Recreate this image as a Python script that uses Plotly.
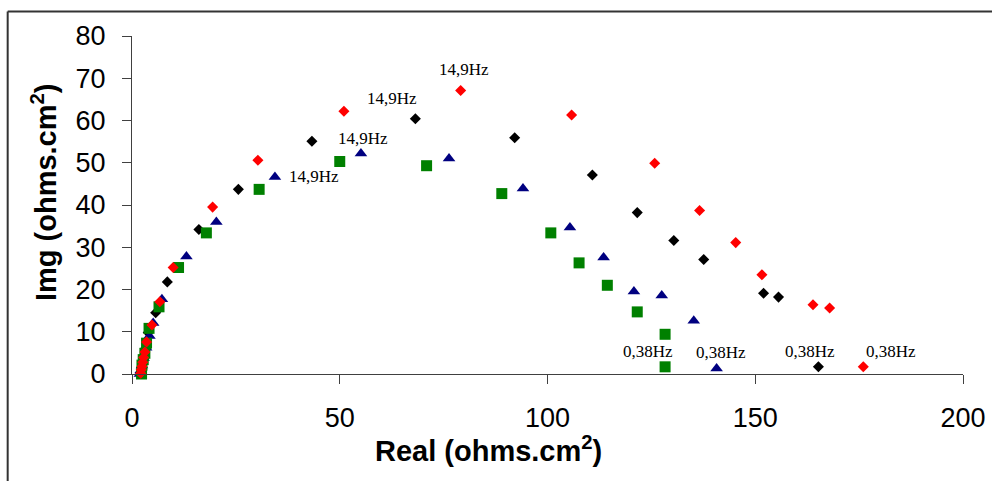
import plotly.graph_objects as go

# Nyquist impedance data (Real vs Img, ohms.cm^2), high to low frequency
black_x = [2.0, 2.3, 2.7, 3.2, 3.9, 5.7, 8.5, 16.1, 25.6, 43.3, 68.2, 92.1, 110.8, 121.6, 130.4, 137.6, 152.0, 155.6, 165.2]
black_y = [0.3, 1.5, 3.2, 6.0, 9.8, 14.5, 21.8, 34.2, 43.7, 55.1, 60.4, 55.9, 47.1, 38.2, 31.6, 27.1, 19.1, 18.2, 1.7]

blue_x = [1.9, 2.1, 2.4, 2.8, 3.4, 4.2, 5.1, 7.2, 13.1, 20.3, 34.4, 55.1, 76.3, 94.1, 105.4, 113.5, 120.8, 127.5, 135.2, 140.7]
blue_y = [0.0, 0.8, 2.0, 3.8, 6.2, 9.0, 12.1, 17.7, 27.8, 36.0, 46.6, 52.2, 51.0, 43.9, 34.7, 27.6, 19.5, 18.6, 12.6, 1.3]

green_x = [2.3, 2.4, 2.7, 3.1, 3.5, 4.1, 6.5, 11.2, 17.9, 30.6, 50.0, 70.9, 89.0, 100.8, 107.6, 114.4, 121.6, 128.3, 128.3]
green_y = [0.0, 2.1, 3.4, 4.9, 7.3, 10.8, 15.9, 25.2, 33.4, 43.7, 50.3, 49.3, 42.7, 33.4, 26.3, 21.0, 14.7, 9.4, 1.7]

red_x = [2.1, 2.2, 2.4, 2.6, 2.8, 3.1, 3.5, 4.8, 6.7, 9.9, 19.4, 30.3, 51.0, 79.1, 105.8, 125.8, 136.6, 145.3, 151.6, 163.9, 167.9, 176.0]
red_y = [0.2, 1.0, 1.8, 2.8, 3.9, 5.2, 7.6, 11.6, 17.1, 25.2, 39.5, 50.6, 62.2, 67.1, 61.3, 49.9, 38.7, 31.1, 23.5, 16.4, 15.6, 1.7]

x_ticks = [0, 50, 100, 150, 200]
y_ticks = [0, 10, 20, 30, 40, 50, 60, 70, 80]

# index of the 14,9 Hz point in each series (last point is 0,38 Hz)
hf_idx = {"black": 10, "blue": 11, "green": 10, "red": 13}

series = [
    ("black", black_x, black_y, "diamond", 8.5, "#000000"),
    ("blue", blue_x, blue_y, "triangle-up", 11, "#000080"),
    ("green", green_x, green_y, "square", 11, "#008000"),
    ("red", red_x, red_y, "diamond", 8.5, "#FF0000"),
]

fig = go.Figure()
for name, xs, ys, sym, size, col in series:
    fig.add_trace(go.Scatter(
        x=xs, y=ys, mode="markers", name=name,
        marker=dict(symbol=sym, size=size, color=col, line=dict(width=0)),
        cliponaxis=False, showlegend=False,
    ))

label_font = dict(family="Liberation Serif, Times New Roman, serif", size=17, color="#000000")

# pixel offsets of each frequency label from its point
hf_shift = {"black": (-23, 20), "blue": (2, 15), "green": (-26, -15), "red": (3, 21)}
lf_shift = {"black": (-8, 15), "blue": (4, 16), "green": (-17, 15), "red": (28, 15)}

annotations = []
for name, xs, ys, _, _, _ in series:
    i = hf_idx[name]
    dx, dy = hf_shift[name]
    annotations.append(dict(x=xs[i], y=ys[i], xref="x", yref="y", text="14,9Hz",
                            showarrow=False, xshift=dx, yshift=dy, font=label_font))
    dx, dy = lf_shift[name]
    annotations.append(dict(x=xs[-1], y=ys[-1], xref="x", yref="y", text="0,38Hz",
                            showarrow=False, xshift=dx, yshift=dy, font=label_font))

title_font = dict(family="Liberation Sans, Arial, sans-serif", size=29, color="#000000")
annotations.append(dict(x=0.4288, y=-0.222, xref="paper", yref="paper",
                        text="<b>Real (ohms.cm<sup>2</sup>)</b>", showarrow=False,
                        xanchor="center", yanchor="middle", font=title_font))
annotations.append(dict(x=-0.106, y=0.538, xref="paper", yref="paper",
                        text="<b>Img (ohms.cm<sup>2</sup>)</b>", showarrow=False,
                        textangle=-90, xanchor="center", yanchor="middle", font=title_font))

tick_font = dict(family="Liberation Sans, Arial, sans-serif", size=27, color="#000000")
axis_common = dict(showgrid=False, zeroline=False, showline=True, linecolor="#404040",
                   linewidth=1, ticks="outside", tickcolor="#404040", ticklen=9,
                   tickwidth=1, tickfont=tick_font, fixedrange=True, automargin=False)

fig.update_layout(
    width=992, height=481,
    margin=dict(l=132, r=29, t=36, b=107, autoexpand=False),
    paper_bgcolor="#FFFFFF", plot_bgcolor="#FFFFFF",
    xaxis=dict(range=[0, 200], tickvals=x_ticks, ticklabelstandoff=11, **axis_common),
    yaxis=dict(range=[0, 80], tickvals=y_ticks, ticklabelstandoff=11, **axis_common),
    annotations=annotations,
    shapes=[
        # outer frame (top and left edges)
        dict(type="line", xref="paper", yref="paper", x0=-0.1496, x1=1.06, y0=1.0725, y1=1.0725,
             line=dict(color="#333333", width=2)),
        dict(type="line", xref="paper", yref="paper", x0=-0.1496, x1=-0.1496, y0=1.0725, y1=-0.34,
             line=dict(color="#333333", width=2)),
    ],
)

fig.write_html("out.html")
